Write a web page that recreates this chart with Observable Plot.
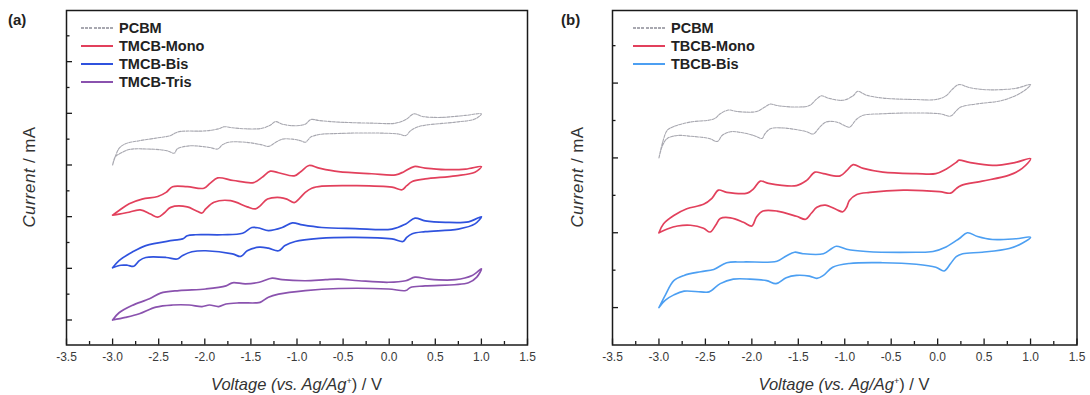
<!DOCTYPE html>
<html><head><meta charset="utf-8">
<script src="https://cdn.jsdelivr.net/npm/d3@7"></script>
<script src="https://cdn.jsdelivr.net/npm/@observablehq/plot@0.6"></script>
<style>
body{margin:0;background:#fff;}
#wrap{position:relative;width:1090px;height:395px;overflow:hidden;font-family:"Liberation Sans",Arial,sans-serif;color:#222;background:#fff;}
.pl{position:absolute;top:0;width:545px;height:395px;}
.t{position:absolute;white-space:nowrap;line-height:1;}
.panel{font-weight:bold;font-size:15px;}
.leg{font-weight:bold;font-size:14.5px;transform:translateY(-50%);color:#222;}
.sw{position:absolute;width:32px;}
.xl{font-size:16.5px;transform:translateX(-50%);color:#333;}
.yl{font-size:17px;letter-spacing:0.4px;transform:translate(-50%,-50%) rotate(-90deg);color:#333;}
i{font-style:italic;}
sup{font-size:9px;vertical-align:6px;line-height:0;}
</style></head>
<body><div id="wrap"></div>
<script>
// ---------- data ----------
const xTickValues = [-3.5,-3.0,-2.5,-2.0,-1.5,-1.0,-0.5,0.0,0.5,1.0,1.5];
const xMinorValues = [-3.25,-2.75,-2.25,-1.75,-1.25,-0.75,-0.25,0.25,0.75,1.25];
const yMajorA = [0,1,2,3,4,5];
const yMinorA = [0.5,1.5,2.5,3.5,4.5,5.5];
const yMajorB = [0,1,2,3];
const yMinorB = [0.5,1.5,2.5,3.5];

const namesA = ["PCBM","TMCB-Mono","TMCB-Bis","TMCB-Tris"];
const namesB = ["PCBM","TBCB-Mono","TBCB-Bis"];

// [voltage (V), current (offset, a.u.)] — forward scan then return scan
const pcbmA = [[-3.00,3.00],[-2.93,3.32],[-2.86,3.41],[-2.71,3.47],[-2.53,3.52],[-2.37,3.57],[-2.32,3.62],[-2.26,3.65],[-1.99,3.66],[-1.85,3.70],[-1.79,3.74],[-1.70,3.72],[-1.56,3.70],[-1.38,3.71],[-1.29,3.77],[-1.23,3.84],[-1.16,3.79],[-1.02,3.76],[-0.91,3.79],[-0.85,3.88],[-0.76,3.86],[-0.55,3.83],[-0.19,3.81],[0.07,3.81],[0.18,3.88],[0.27,3.99],[0.36,3.94],[0.54,3.92],[0.83,3.96],[1.00,3.99],
  [0.93,3.89],[0.72,3.83],[0.39,3.77],[0.30,3.73],[0.23,3.66],[0.18,3.57],[0.10,3.60],[-0.19,3.62],[-0.55,3.61],[-0.76,3.59],[-0.85,3.54],[-0.91,3.44],[-0.96,3.47],[-1.05,3.50],[-1.16,3.50],[-1.23,3.44],[-1.31,3.36],[-1.38,3.39],[-1.56,3.44],[-1.74,3.44],[-1.81,3.39],[-1.86,3.31],[-1.95,3.34],[-2.17,3.37],[-2.30,3.31],[-2.33,3.23],[-2.42,3.28],[-2.64,3.31],[-2.82,3.30],[-2.91,3.23],[-2.97,3.16],[-3.00,3.00]];
const monoA = [[-3.00,2.03],[-2.93,2.12],[-2.82,2.25],[-2.68,2.34],[-2.51,2.39],[-2.42,2.47],[-2.35,2.58],[-2.19,2.58],[-2.01,2.55],[-1.94,2.65],[-1.86,2.75],[-1.69,2.70],[-1.47,2.66],[-1.38,2.76],[-1.29,2.88],[-1.20,2.85],[-1.03,2.79],[-0.96,2.87],[-0.87,2.99],[-0.76,2.94],[-0.55,2.87],[-0.19,2.83],[0.07,2.81],[0.16,2.87],[0.27,2.97],[0.39,2.94],[0.61,2.91],[0.83,2.92],[1.00,2.97],
  [0.93,2.86],[0.72,2.79],[0.39,2.73],[0.25,2.68],[0.19,2.60],[0.14,2.52],[0.03,2.57],[-0.37,2.60],[-0.73,2.59],[-0.84,2.55],[-0.91,2.47],[-0.98,2.34],[-1.03,2.27],[-1.11,2.34],[-1.18,2.37],[-1.32,2.34],[-1.40,2.21],[-1.45,2.15],[-1.54,2.19],[-1.72,2.31],[-1.90,2.28],[-1.99,2.15],[-2.03,2.07],[-2.10,2.12],[-2.19,2.19],[-2.37,2.18],[-2.44,2.07],[-2.51,1.99],[-2.59,2.05],[-2.70,2.13],[-2.84,2.08],[-2.93,2.05],[-3.00,2.03]];
const bisA = [[-3.00,1.01],[-2.93,1.15],[-2.79,1.31],[-2.64,1.44],[-2.35,1.54],[-2.24,1.57],[-2.19,1.63],[-2.10,1.65],[-1.81,1.65],[-1.59,1.68],[-1.49,1.79],[-1.41,1.78],[-1.31,1.73],[-1.16,1.79],[-1.05,1.88],[-0.94,1.84],[-0.73,1.79],[-0.37,1.77],[0.03,1.76],[0.18,1.86],[0.28,1.97],[0.39,1.92],[0.61,1.89],[0.86,1.90],[1.00,2.00],
  [0.93,1.86],[0.75,1.76],[0.39,1.71],[0.25,1.67],[0.19,1.60],[0.15,1.52],[0.03,1.57],[-0.37,1.60],[-0.76,1.58],[-1.02,1.52],[-1.13,1.44],[-1.20,1.34],[-1.31,1.39],[-1.41,1.41],[-1.54,1.34],[-1.61,1.23],[-1.70,1.28],[-1.99,1.34],[-2.14,1.32],[-2.24,1.25],[-2.30,1.18],[-2.42,1.21],[-2.64,1.21],[-2.71,1.15],[-2.77,1.04],[-2.84,1.06],[-2.91,1.06],[-3.00,1.01]];
const trisA = [[-3.00,0.00],[-2.93,0.14],[-2.79,0.28],[-2.60,0.41],[-2.48,0.52],[-2.28,0.57],[-1.99,0.60],[-1.77,0.66],[-1.70,0.72],[-1.56,0.70],[-1.41,0.73],[-1.27,0.81],[-1.16,0.78],[-0.91,0.76],[-0.69,0.78],[-0.55,0.79],[-0.33,0.76],[-0.01,0.73],[0.18,0.76],[0.28,0.83],[0.43,0.79],[0.72,0.78],[0.90,0.86],[1.00,0.99],
  [0.95,0.83],[0.86,0.72],[0.39,0.66],[0.23,0.63],[0.18,0.57],[-0.01,0.60],[-0.55,0.61],[-0.91,0.57],[-1.20,0.50],[-1.31,0.44],[-1.40,0.34],[-1.45,0.33],[-1.63,0.33],[-1.77,0.31],[-1.85,0.26],[-1.95,0.29],[-2.03,0.26],[-2.17,0.29],[-2.35,0.29],[-2.53,0.25],[-2.71,0.12],[-2.86,0.05],[-3.00,0.00]];

const pcbmB = [[-3.00,2.00],[-2.96,2.21],[-2.91,2.37],[-2.84,2.42],[-2.66,2.48],[-2.41,2.52],[-2.34,2.59],[-2.25,2.64],[-2.16,2.62],[-1.95,2.62],[-1.86,2.68],[-1.80,2.72],[-1.73,2.70],[-1.52,2.68],[-1.38,2.70],[-1.30,2.79],[-1.25,2.83],[-1.18,2.80],[-1.02,2.77],[-0.91,2.83],[-0.86,2.89],[-0.77,2.84],[-0.59,2.80],[-0.23,2.78],[-0.02,2.78],[0.09,2.83],[0.16,2.92],[0.23,2.98],[0.34,2.94],[0.55,2.91],[0.84,2.93],[1.00,2.98],
  [0.91,2.88],[0.70,2.77],[0.41,2.72],[0.25,2.68],[0.20,2.63],[0.14,2.56],[0.02,2.59],[-0.30,2.60],[-0.59,2.59],[-0.80,2.57],[-0.87,2.52],[-0.95,2.41],[-1.00,2.43],[-1.09,2.48],[-1.20,2.48],[-1.27,2.41],[-1.34,2.32],[-1.41,2.35],[-1.66,2.40],[-1.80,2.39],[-1.86,2.32],[-1.89,2.26],[-1.98,2.30],[-2.12,2.34],[-2.23,2.35],[-2.32,2.30],[-2.37,2.22],[-2.46,2.26],[-2.66,2.29],[-2.80,2.30],[-2.91,2.26],[-2.96,2.17],[-3.00,2.00]];
const monoB = [[-3.00,1.00],[-2.95,1.12],[-2.84,1.23],[-2.70,1.32],[-2.52,1.38],[-2.43,1.46],[-2.36,1.57],[-2.27,1.54],[-2.05,1.53],[-1.98,1.59],[-1.91,1.69],[-1.82,1.66],[-1.52,1.63],[-1.41,1.70],[-1.32,1.81],[-1.23,1.79],[-1.05,1.76],[-0.98,1.83],[-0.91,1.91],[-0.80,1.86],[-0.59,1.81],[-0.23,1.79],[-0.02,1.79],[0.09,1.85],[0.20,1.94],[0.23,1.97],[0.34,1.94],[0.59,1.90],[0.84,1.94],[1.00,1.99],
  [0.91,1.86],[0.77,1.77],[0.48,1.69],[0.25,1.63],[0.20,1.59],[0.14,1.53],[0.02,1.55],[-0.37,1.57],[-0.73,1.54],[-0.87,1.51],[-0.95,1.43],[-0.98,1.34],[-1.02,1.28],[-1.09,1.31],[-1.21,1.37],[-1.30,1.34],[-1.36,1.26],[-1.42,1.18],[-1.52,1.22],[-1.73,1.29],[-1.88,1.29],[-1.95,1.21],[-2.00,1.09],[-2.09,1.14],[-2.23,1.20],[-2.34,1.19],[-2.39,1.10],[-2.45,1.01],[-2.52,1.06],[-2.66,1.10],[-2.80,1.09],[-2.91,1.05],[-3.00,1.00]];
const bisB = [[-3.00,0.00],[-2.93,0.17],[-2.84,0.36],[-2.73,0.43],[-2.55,0.48],[-2.41,0.51],[-2.27,0.60],[-2.09,0.61],[-1.73,0.62],[-1.63,0.69],[-1.54,0.74],[-1.45,0.72],[-1.23,0.72],[-1.14,0.79],[-1.09,0.82],[-0.98,0.78],[-0.77,0.75],[-0.23,0.74],[-0.05,0.75],[0.09,0.81],[0.23,0.92],[0.32,1.00],[0.43,0.95],[0.59,0.91],[0.84,0.92],[1.00,0.94],
  [0.91,0.86],[0.77,0.79],[0.48,0.74],[0.27,0.72],[0.20,0.68],[0.14,0.59],[0.07,0.49],[-0.02,0.54],[-0.23,0.58],[-0.59,0.60],[-0.95,0.59],[-1.13,0.54],[-1.23,0.43],[-1.30,0.39],[-1.38,0.42],[-1.52,0.43],[-1.63,0.40],[-1.74,0.32],[-1.84,0.36],[-2.02,0.38],[-2.20,0.38],[-2.34,0.32],[-2.46,0.21],[-2.55,0.21],[-2.73,0.22],[-2.84,0.17],[-2.93,0.10],[-3.00,0.00]];

// ---------- styles ----------
const styleOf = {
  "PCBM":      {stroke:"#a8a8b0", width:1.1, dash:"3,1.2"},
  "TMCB-Mono": {stroke:"#e2405c", width:1.7},
  "TMCB-Bis":  {stroke:"#2f52de", width:1.7},
  "TMCB-Tris": {stroke:"#8a52ae", width:1.7},
  "TBCB-Mono": {stroke:"#e2405c", width:1.7},
  "TBCB-Bis":  {stroke:"#4c9ff2", width:1.6}
};

function panel({names, curves, yDomain, yMajor, yMinor, marginLeft, marginRight}) {
  const W = 545, H = 395, mt = 10, mb = 50.5;
  const innerH = H - mt - mb, innerW = W - marginLeft - marginRight;
  const tick = {stroke:"#1a1a1a", strokeWidth:1.3};
  return Plot.plot({
    width: W, height: H, marginTop: mt, marginBottom: mb, marginLeft, marginRight,
    x: {domain: [-3.5, 1.5]},
    y: {domain: yDomain, axis: null},
    style: {fontFamily: '"Liberation Sans", Arial, sans-serif', background: "transparent", overflow: "visible"},
    marks: [
      Plot.axisX({ticks: xTickValues, tickSize: 0, tickPadding: 7, tickFormat: d => d.toFixed(1), fontSize: 12, fill: "#3a3a3a", label: null, letterSpacing: "0.8px"}),
      Plot.ruleX(xTickValues, {x: d => d, insetTop: innerH - 6, ...tick}),
      Plot.ruleX(xMinorValues, {x: d => d, insetTop: innerH - 3.5, ...tick}),
      Plot.ruleY(yMajor, {y: d => d, insetRight: innerW - 6, ...tick}),
      Plot.ruleY(yMinor, {y: d => d, insetRight: innerW - 3.5, ...tick}),
      ...names.map((n, i) => Plot.line(curves[i], {
        x: d => d[0], y: d => d[1], stroke: styleOf[n].stroke, strokeWidth: styleOf[n].width,
        strokeDasharray: styleOf[n].dash, curve: "catmull-rom", strokeLinejoin: "round"
      })),
      Plot.frame({stroke: "#1a1a1a", strokeWidth: 1.5})
    ]
  });
}

const wrap = document.getElementById("wrap");
function place(node, left) { const d = document.createElement("div"); d.className = "pl"; d.style.left = left + "px"; d.appendChild(node); wrap.appendChild(d); }

place(panel({names: namesA, curves: [pcbmA, monoA, bisA, trisA], yDomain: [-0.484, 5.99], yMajor: yMajorA, yMinor: yMinorA, marginLeft: 66, marginRight: 18}), 0);
place(panel({names: namesB, curves: [pcbmB, monoB, bisB], yDomain: [-0.5, 3.97], yMajor: yMajorB, yMinor: yMinorB, marginLeft: 67, marginRight: 13.5}), 545);

function text(cls, html, left, top) { const d = document.createElement("div"); d.className = "t " + cls; d.innerHTML = html; d.style.left = left + "px"; d.style.top = top + "px"; wrap.appendChild(d); return d; }

// panel letters
text("panel", "(a)", 8, 12);
text("panel", "(b)", 561, 12);

// legends
function legend(names, lineX, textX) {
  names.forEach((n, i) => {
    const y = 28 + i * 18;
    const st = styleOf[n];
    const s = document.createElement("div");
    s.className = "sw";
    s.style.left = lineX + "px";
    s.style.top = (y - st.width / 2) + "px";
    s.style.height = st.width + "px";
    s.style.background = st.dash
      ? `repeating-linear-gradient(90deg, ${st.stroke} 0 3px, transparent 3px 4.2px)`
      : st.stroke;
    wrap.appendChild(s);
    text("leg", n, textX, y);
  });
}
legend(namesA, 81, 119);
legend(namesB, 633, 671);

// axis titles
const xTitle = "<i>Voltage (vs. Ag/Ag</i><sup>+</sup>) / V";
const yTitle = "<i>Current</i> / mA";
text("xl", xTitle, 296.5, 376);
text("xl", xTitle, 844, 376);
text("yl", yTitle, 29, 177);
text("yl", yTitle, 577, 177);
</script></body></html>
